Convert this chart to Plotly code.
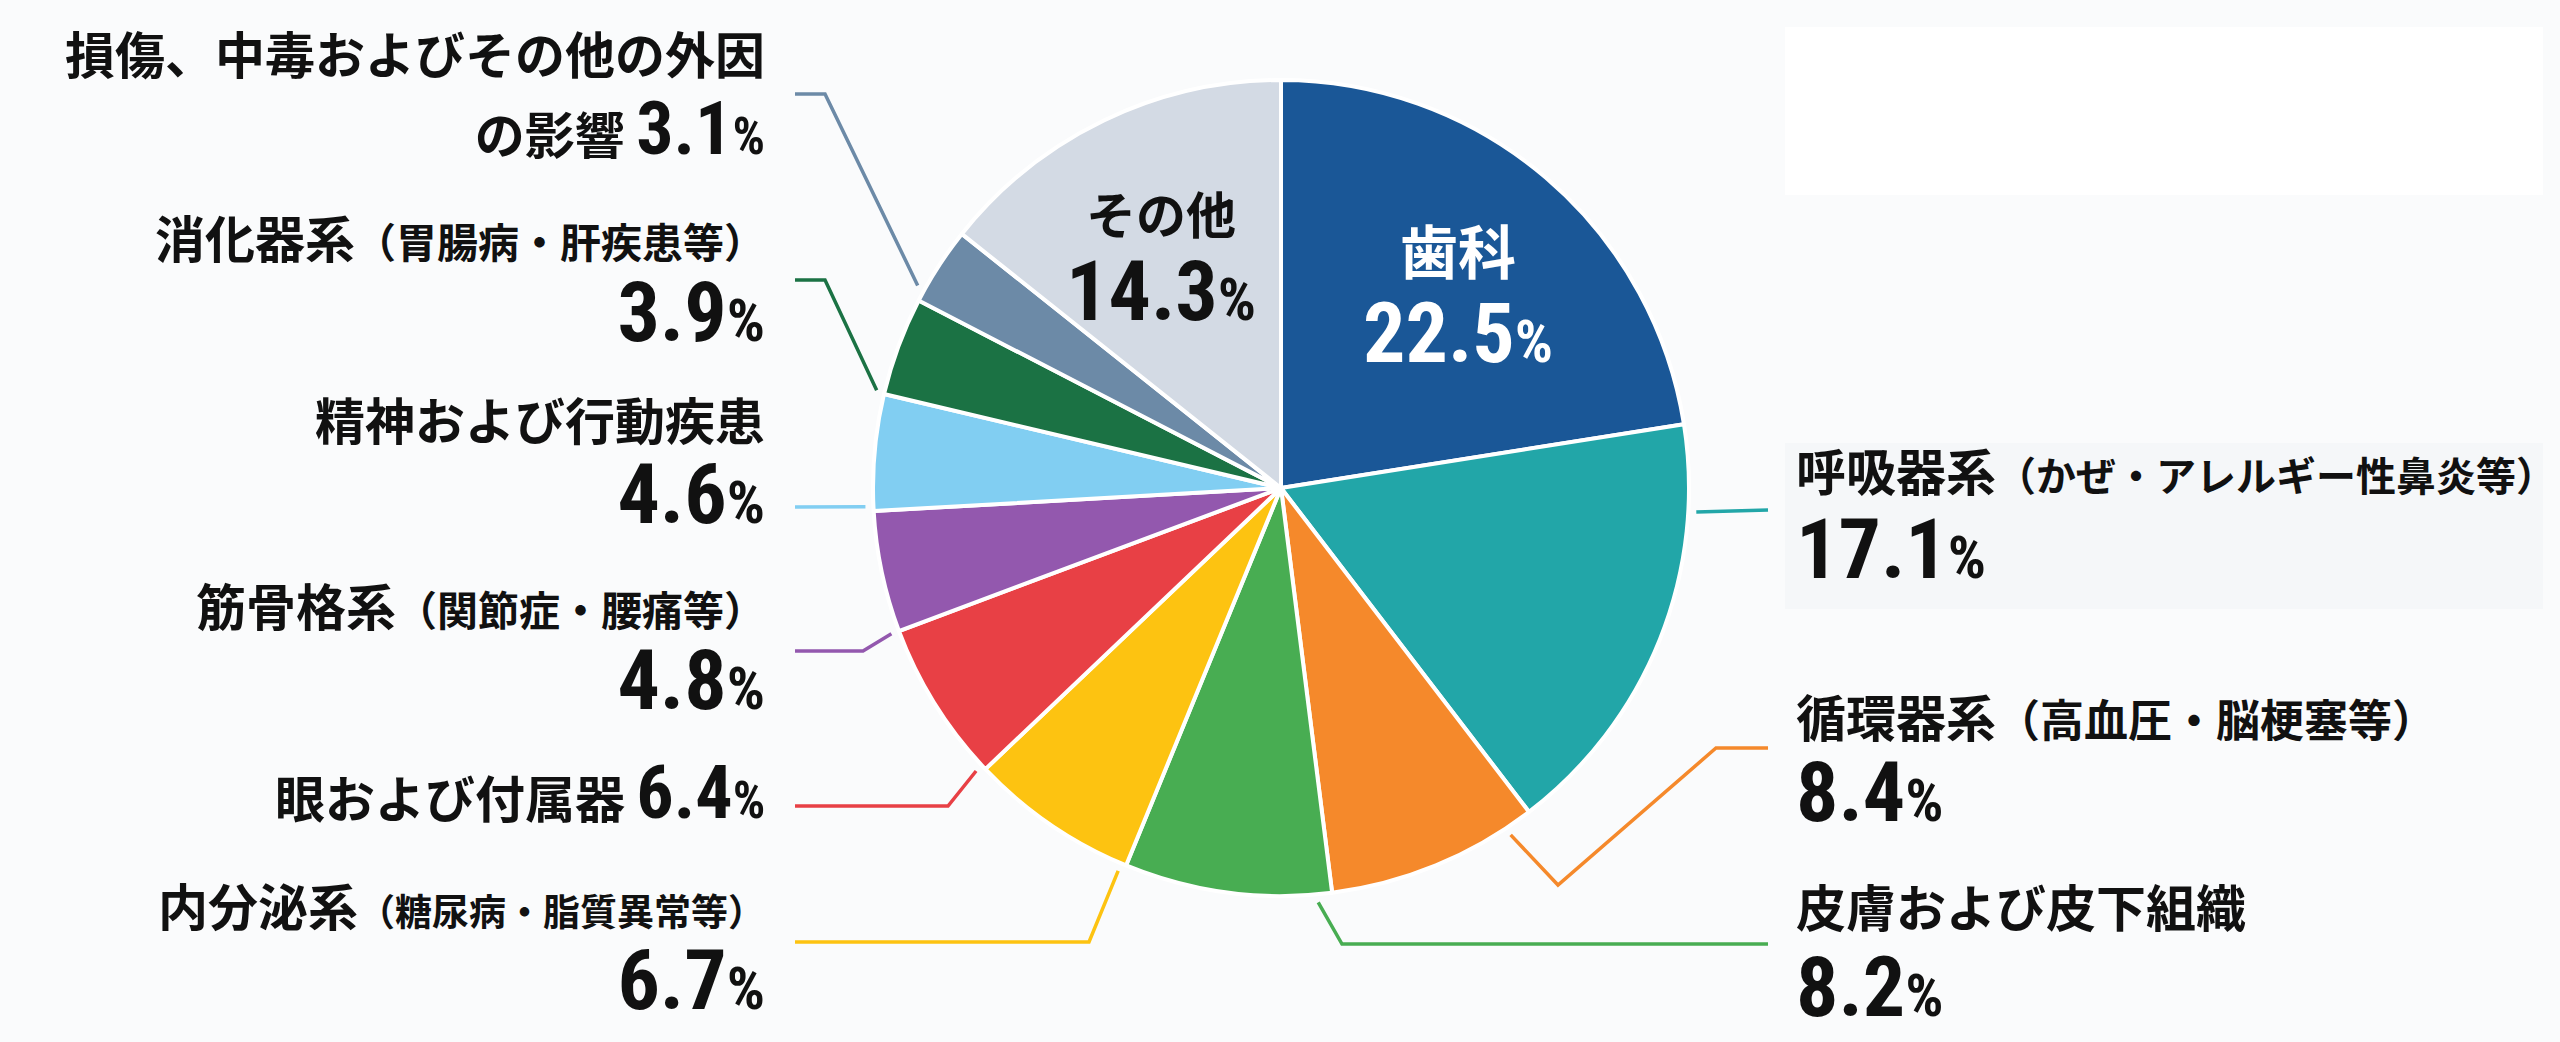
import math
import plotly.graph_objects as go

# 医療費の傷病分類別構成比（%）
categories = ["歯科", "呼吸器系", "循環器系", "皮膚および皮下組織", "内分泌系", "眼および付属器",
              "筋骨格系", "精神および行動疾患", "消化器系", "損傷、中毒およびその他の外因の影響", "その他"]
notes = ["", "（かぜ・アレルギー性鼻炎等）", "（高血圧・脳梗塞等）", "", "（糖尿病・脂質異常等）", "",
         "（関節症・腰痛等）", "", "（胃腸病・肝疾患等）", "", ""]
values = [22.5, 17.1, 8.4, 8.2, 6.7, 6.4, 4.8, 4.6, 3.9, 3.1, 14.3]
colors = ["#1A5797", "#22A6A8", "#F5892B", "#48AD52", "#FDC311", "#E84045",
          "#9358AE", "#81CEF2", "#1B7244", "#6C8AA7", "#D3DAE4"]

W, H = 2560, 1042
CX, CY, R = 1281, 488, 408
CJK = "Noto Sans CJK JP"
NUM = "Liberation Sans Narrow,Roboto Condensed,Open Sans Condensed,Open Sans,Noto Sans CJK JP"
INK = "#111111"
LINE_SPACING = 1.3  # plotly's line height, in units of the annotation font size
BIG = (84, 60)      # standalone value: digits, % sign
INLINE = (74, 51)   # value written on the same line as the name


def paper(x, y):
    return x / W, 1 - y / H


def slice_angle(i, frac):
    # clockwise from 12 o'clock, degrees
    start = sum(values[:i]) / sum(values) * 360
    return start + frac * values[i] / sum(values) * 360


def polar(deg, r):
    a = math.radians(deg)
    return CX + r * math.sin(a), CY - r * math.cos(a)


def num_html(v, sizes):
    st = f"font-family:{NUM};font-stretch:75%"
    return (f"<span style='{st};font-size:{sizes[0]}px'>{v:.1f}</span>"
            f"<span style='{st};font-size:{sizes[1]}px'>%</span>")


def cjk_html(s, size):
    return f"<span style='font-size:{size}px'>{s}</span>"


def name_html(i, note_size):
    s = cjk_html(categories[i], 50)
    if notes[i]:
        s += cjk_html(notes[i], note_size)
    return s


def block(x, bottom, lines, gap, anchor, color=INK):
    # gap: distance between the baselines of consecutive lines (px)
    size = gap / LINE_SPACING if gap else 50
    return dict(x=x / W, y=1 - bottom / H, text="<br>".join(lines), xanchor=anchor,
                yanchor="bottom", align=anchor,
                font=dict(family=CJK, size=size, color=color, weight=700))


# label placement (name baseline, value baseline) and leader-line route, in pixels
label_layout = {
    1: dict(side="r", name_base=495, value_base=582, note=40, frac=0.20, path=[(1768, 510)]),
    2: dict(side="r", name_base=741, value_base=825, note=44, frac=0.13,
            path=[(1558, 885), (1716, 748), (1768, 748)]),
    3: dict(side="r", name_base=931, value_base=1020, note=40, frac=0.07, path=[(1342, 944), (1768, 944)]),
    4: dict(side="l", name_base=930, value_base=1013, note=37, frac=0.03, path=[(1089, 942), (795, 942)]),
    5: dict(side="l", name_base=None, value_base=822, note=40, frac=0.03, path=[(948, 806), (795, 806)]),
    6: dict(side="l", name_base=630, value_base=713, note=41, frac=0.0, path=[(863, 651), (795, 651)]),
    7: dict(side="l", name_base=444, value_base=527, note=40, frac=0.04, path=[(795, 507)]),
    8: dict(side="l", name_base=262, value_base=345, note=41, frac=0.02, path=[(825, 280), (795, 280)]),
    9: dict(side="l", name_base=78, value_base=158, note=40, frac=0.16, path=[(825, 94), (795, 94)], wrap=14),
}
inside_layout = {0: dict(color="white", name_size=58, gap=88, dx=10, dy=5),
                 10: dict(color=INK, name_size=50, gap=86, dx=-8, dy=0)}

fig = go.Figure()
fig.add_trace(go.Pie(
    labels=categories, values=values, sort=False, direction="clockwise", rotation=0,
    marker=dict(colors=colors, line=dict(color="white", width=4)),
    textinfo="none", hoverinfo="label+percent", showlegend=False,
    domain=dict(x=[(CX - R) / W, (CX + R) / W], y=[1 - (CY + R) / H, 1 - (CY - R) / H]),
))

annotations = []
shapes = [
    dict(type="rect", xref="paper", yref="paper", x0=1785 / W, x1=2543 / W, y0=1 - 195 / H, y1=1 - 27 / H,
         fillcolor="white", line=dict(width=0), layer="below"),
    dict(type="rect", xref="paper", yref="paper", x0=1785 / W, x1=2543 / W, y0=1 - 609 / H, y1=1 - 443 / H,
         fillcolor="#F5F7F9", line=dict(width=0), layer="below"),
]

for i, spec in label_layout.items():
    right = spec["side"] == "r"
    tx = 1794 if right else 767
    anchor = "left" if right else "right"
    vb = spec["value_base"]
    if "wrap" in spec:
        first, rest = categories[i][:spec["wrap"]], categories[i][spec["wrap"]:]
        lines = [cjk_html(first, 50), cjk_html(rest + " ", 50) + num_html(values[i], INLINE)]
        annotations.append(block(tx, vb + 16, lines, vb - spec["name_base"], anchor))
    elif spec["name_base"] is None:
        lines = [name_html(i, spec["note"]) + cjk_html(" ", 50) + num_html(values[i], INLINE)]
        annotations.append(block(tx, vb + 16, lines, 0, anchor))
    else:
        lines = [name_html(i, spec["note"]), num_html(values[i], BIG)]
        annotations.append(block(tx, vb + 19, lines, vb - spec["name_base"], anchor))

    # leader line from the slice edge out to the label
    pts = [polar(slice_angle(i, spec["frac"]), R + 8)] + spec["path"]
    d = "M " + " L ".join(f"{px / W:.5f},{1 - py / H:.5f}" for px, py in pts)
    shapes.append(dict(type="path", xref="paper", yref="paper", path=d,
                       line=dict(color=colors[i], width=3.5)))

for i, spec in inside_layout.items():
    mx, my = polar(slice_angle(i, 0.5), 0.63 * R)
    lines = [cjk_html(categories[i], spec["name_size"]), num_html(values[i], BIG)]
    annotations.append(block(mx + spec["dx"], my + 87 + spec["dy"], lines, spec["gap"], "center",
                             spec["color"]))

for a in annotations:
    a.update(xref="paper", yref="paper", showarrow=False)

fig.update_layout(
    width=W, height=H, margin=dict(l=0, r=0, t=0, b=0),
    paper_bgcolor="#FAFBFC", plot_bgcolor="#FAFBFC",
    annotations=annotations, shapes=shapes,
)

fig.write_html("out.html", config={"displayModeBar": False},
               post_script="document.body.style.margin='0';")
